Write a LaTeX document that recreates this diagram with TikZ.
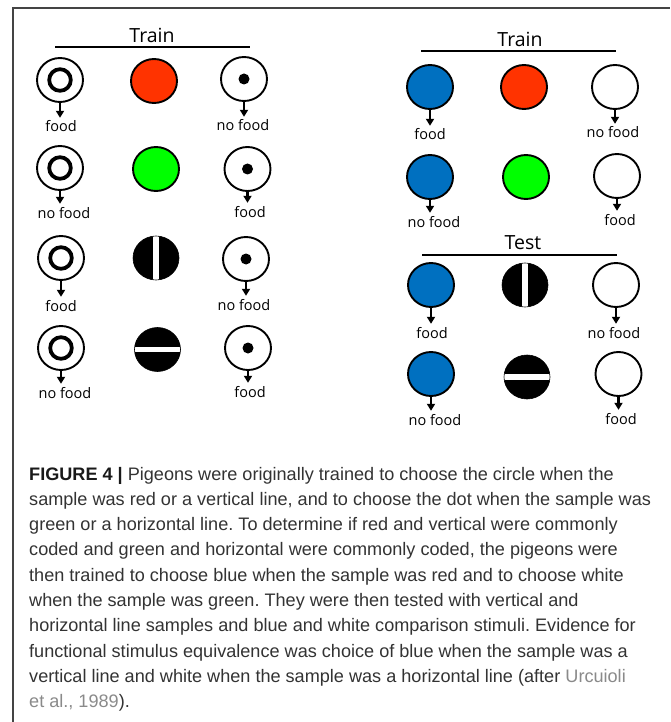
\documentclass[tikz,border=0pt]{standalone}
\usepackage{fontspec}
\usetikzlibrary{arrows.meta,shapes.geometric}
\newfontfamily\capfont[FakeStretch=1.0]{Liberation Sans}
\newfontfamily\labfont{Open Sans}
\definecolor{stimred}{HTML}{FF3300}
\definecolor{stimgreen}{HTML}{00FF00}
\definecolor{stimblue}{HTML}{0070C0}
\definecolor{captext}{HTML}{333333}
\definecolor{linkgray}{HTML}{8A8A8A}
\definecolor{framegray}{HTML}{444444}
\begin{document}
\frenchspacing
\begin{tikzpicture}[x=1pt,y=-1pt,
  stim/.style={ellipse, minimum width=46pt, minimum height=44pt, inner sep=0pt, draw=black, line width=1.9pt},
  ringstim/.style={stim, fill=white, path picture={\draw[black, line width=3.8pt] (path picture bounding box.center) circle (10.8pt);}},
  dotstim/.style={stim, fill=white, path picture={\fill[black] (path picture bounding box.center) circle (5.5pt);}},
  vbarstim/.style={stim, fill=black, line width=0.6pt, path picture={\fill[white] ([xshift=-2.6pt]path picture bounding box.north) rectangle ([xshift=2.6pt]path picture bounding box.south);}},
  hbarstim/.style={stim, fill=black, line width=0.6pt, path picture={\fill[white] ([yshift=-2.6pt]path picture bounding box.west) rectangle ([yshift=2.6pt]path picture bounding box.east);}},
  redstim/.style={stim, fill=stimred},
  greenstim/.style={stim, fill=stimgreen},
  bluestim/.style={stim, fill=stimblue},
  whitestim/.style={stim, fill=white},
  lab/.style={font=\labfont\fontsize{14.5}{14.5}\selectfont, inner sep=0pt, text height=10pt, text depth=0pt},
  hdr/.style={font=\labfont\fontsize{19.5}{19.5}\selectfont, inner sep=0pt},
  hline/.style={line width=1.6pt},
  arr/.style={line width=2.1pt, -{Triangle[width=8pt,length=7pt]}, shorten >=4pt},
  captxt/.style={anchor=base west, inner sep=0pt, font=\capfont\fontsize{18.1}{18.1}\selectfont, text=captext}
]
\useasboundingbox (0,0) rectangle (670,722);
\fill[white] (0,0) rectangle (670,722);
\draw[framegray, line width=1.3pt] (13,722) -- (13,8) -- (670,8);

% ---------- left panel ----------
\node[hdr] (ltrain) at (152,35) {Train};
\coordinate (lh1) at (55,47); \coordinate (lh2) at (250,47);
\draw[hline] (lh1) -- (lh2);

\node[ringstim] (l1a) at (60,80) {};
\node[redstim] (l1b) at (154,81) {};
\node[dotstim] (l1c) at (244,79) {};
\node[lab] (l1al) at (61,127) {food};
\node[lab] (l1cl) at (243,126) {no food};

\node[ringstim] (l2a) at (60,168) {};
\node[greenstim] (l2b) at (156,169) {};
\node[dotstim] (l2c) at (247.5,169) {};
\node[lab] (l2al) at (64,213) {no food};
\node[lab] (l2cl) at (250,212) {food};

\node[ringstim] (l3a) at (61,258) {};
\node[vbarstim] (l3b) at (156,258) {};
\node[dotstim] (l3c) at (246,259) {};
\node[lab] (l3al) at (61,306) {food};
\node[lab] (l3cl) at (244,305) {no food};

\node[ringstim] (l4a) at (61,348) {};
\node[hbarstim] (l4b) at (157.5,349.5) {};
\node[dotstim] (l4c) at (248,348) {};
\node[lab] (l4al) at (65,393) {no food};
\node[lab] (l4cl) at (250,392) {food};

% ---------- right panel ----------
\node[hdr] (rtrain) at (520,39) {Train};
\coordinate (rh1) at (421,51); \coordinate (rh2) at (616,51);
\draw[hline] (rh1) -- (rh2);

\node[bluestim] (r1a) at (430,87) {};
\node[redstim] (r1b) at (524,87) {};
\node[whitestim] (r1c) at (615,87) {};
\node[lab] (r1al) at (430,135) {food};
\node[lab] (r1cl) at (613,133) {no food};

\node[bluestim] (r2a) at (430,177) {};
\node[greenstim] (r2b) at (526,177) {};
\node[whitestim] (r2c) at (617,176) {};
\node[lab] (r2al) at (434,222) {no food};
\node[lab] (r2cl) at (620,220) {food};

\node[hdr] (rtest) at (523,243) {Test};
\coordinate (th1) at (422,255); \coordinate (th2) at (617,255);
\draw[hline] (th1) -- (th2);

\node[bluestim] (r3a) at (431,285) {};
\node[vbarstim] (r3b) at (525,285) {};
\node[whitestim] (r3c) at (616,285) {};
\node[lab] (r3al) at (432,333) {food};
\node[lab] (r3cl) at (614,333) {no food};

\node[bluestim] (r4a) at (431,374) {};
\node[hbarstim] (r4b) at (527,377) {};
\node[whitestim] (r4c) at (618.5,374) {};
\node[lab] (r4al) at (435,420) {no food};
\node[lab] (r4cl) at (621,419) {food};

% arrows
\foreach \n in {l1a,l1c,l2a,l2c,l3a,l3c,l4a,l4c,r1a,r1c,r2a,r2c,r3a,r3c,r4a,r4c}{
  \draw[arr] (\n.south) -- (\n.south |- \n l.north);
}

% ---------- caption ----------
\node[captxt] (c1) at (29,480) {\textcolor{black!90}{\bfseries FIGURE 4 |} Pigeons were originally trained to choose the circle when the};
\node[captxt] (c2) at (29,505.3) {sample was red or a vertical line, and to choose the dot when the sample was};
\node[captxt] (c3) at (29,530.6) {green or a horizontal line. To determine if red and vertical were commonly};
\node[captxt] (c4) at (29,555.9) {coded and green and horizontal were commonly coded, the pigeons were};
\node[captxt] (c5) at (29,581.2) {then trained to choose blue when the sample was red and to choose white};
\node[captxt] (c6) at (29,606.5) {when the sample was green. They were then tested with vertical and};
\node[captxt] (c7) at (29,631.8) {horizontal line samples and blue and white comparison stimuli. Evidence for};
\node[captxt] (c8) at (29,657.1) {functional stimulus equivalence was choice of blue when the sample was a};
\node[captxt] (c9) at (29,682.4) {vertical line and white when the sample was a horizontal line (after \textcolor{linkgray}{Urcuioli}};
\node[captxt] (c10) at (29,707.7) {\textcolor{linkgray}{et al., 1989}).};
\end{tikzpicture}
\end{document}
